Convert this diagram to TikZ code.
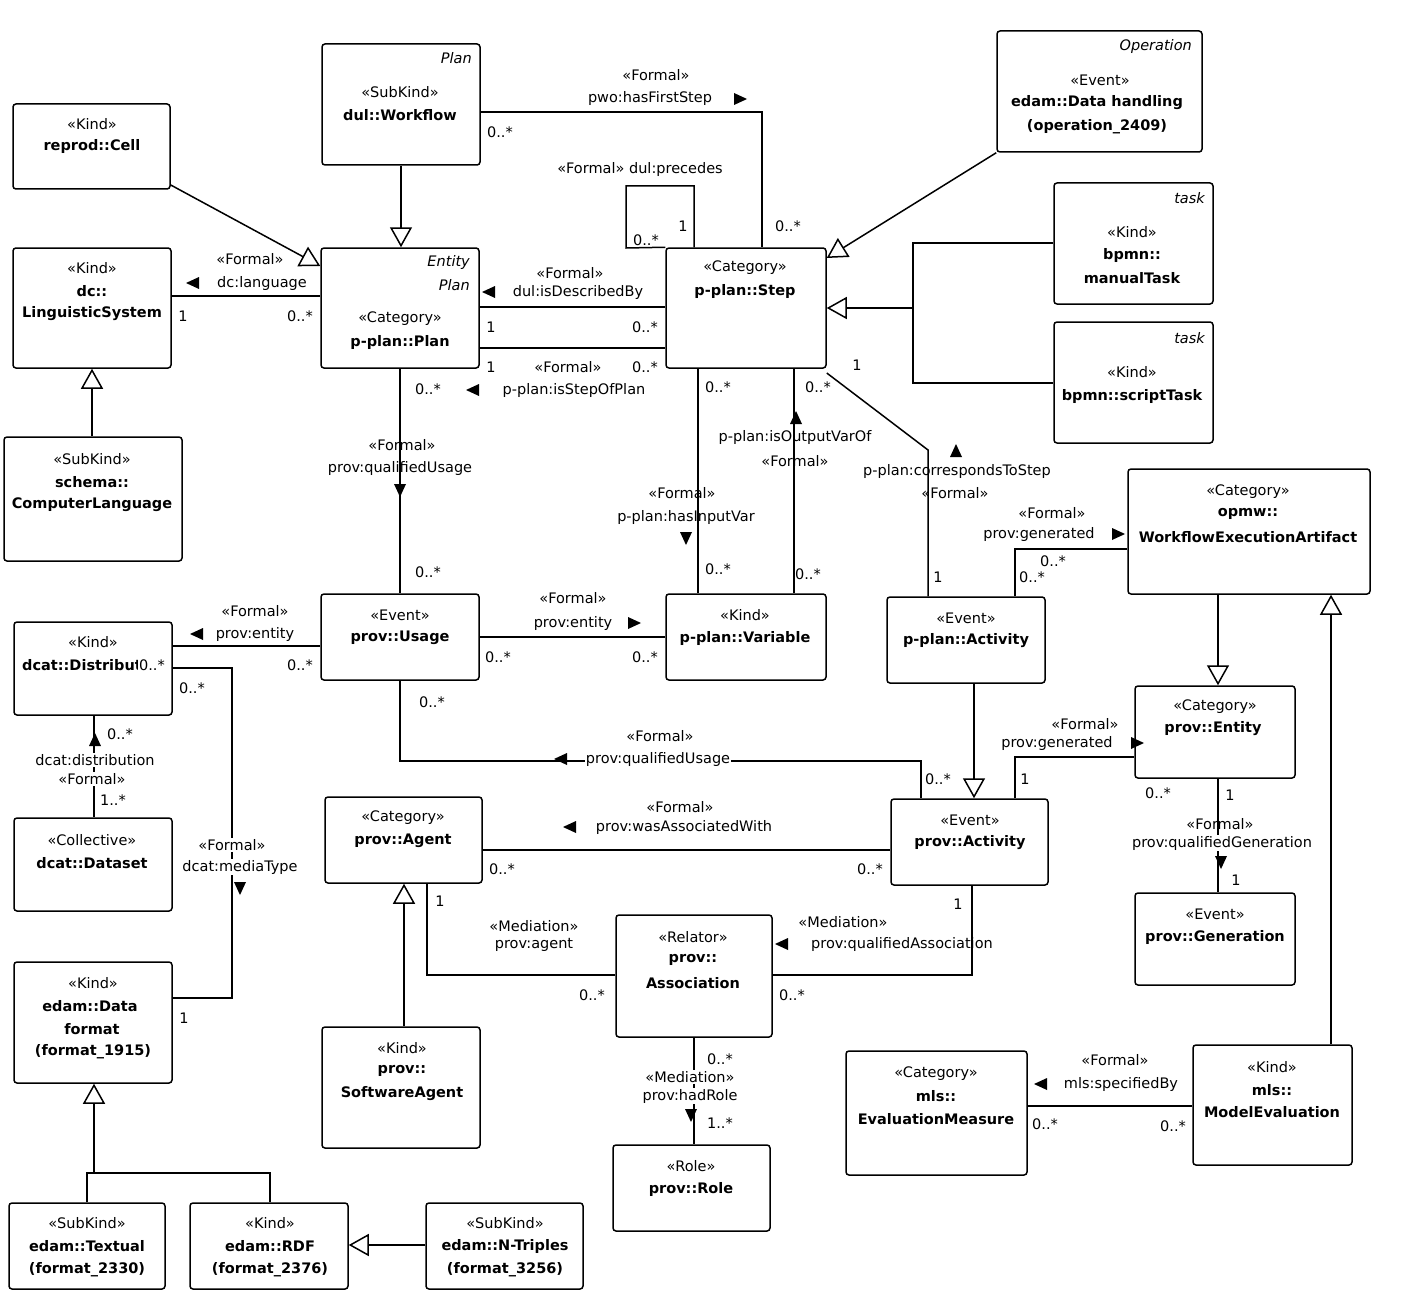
\documentclass[tikz,border=0pt]{standalone}
\usepackage{fontspec}
\setmainfont{DejaVu Sans}
\usetikzlibrary{arrows.meta}
\begin{document}
\begin{tikzpicture}[x=1pt,y=-1pt,
  box/.style={draw,rounded corners=3pt,line width=1.5pt,inner sep=0pt},
  ln/.style={line width=1.5pt},
  gen/.style={ln,-{Triangle[open,length=20pt,width=22pt,fill=white]}},
  t/.style={inner sep=0pt,font=\fontsize{14.5}{16}\selectfont},
  b/.style={inner sep=0pt,font=\fontsize{14.5}{16}\selectfont\bfseries},
  it/.style={inner sep=0pt,font=\fontsize{14.5}{16}\selectfont\itshape},
  tR/.pic={\fill (-6,-6)--(7,0)--(-6,6)--cycle;},
  tL/.pic={\fill (6,-6)--(-7,0)--(6,6)--cycle;},
  tD/.pic={\fill (-6,-6)--(0,7)--(6,-6)--cycle;},
  tU/.pic={\fill (-6,6)--(0,-7)--(6,6)--cycle;}]
\useasboundingbox (0,0) rectangle (1402,1316);
\fill[white] (0,0) rectangle (1402,1316);
\newcommand\mybox[5]{\node[box,minimum width={(#4-#2)*1pt},minimum height={(#5-#3)*1pt}] (#1) at ({(#2+#4)/2},{(#3+#5)/2}) {};}
% boxes
\mybox{wf}{322}{44}{480}{165}
\mybox{cell}{13}{104}{170}{189}
\mybox{ling}{13}{248}{171}{368}
\mybox{comp}{4}{437}{182}{561}
\mybox{plan}{321}{248}{479}{368}
\mybox{step}{666}{248}{826}{368}
\mybox{oper}{997}{31}{1202}{152}
\mybox{manual}{1054}{183}{1213}{304}
\mybox{script}{1054}{322}{1213}{443}
\mybox{opmw}{1128}{469}{1370}{594}
\mybox{usage}{321}{594}{479}{680}
\mybox{var}{666}{594}{826}{680}
\mybox{pact}{887}{597}{1045}{683}
\mybox{dist}{14}{622}{172}{715}
\mybox{ent}{1135}{686}{1295}{778}
\mybox{agent}{325}{797}{482}{883}
\mybox{act}{891}{799}{1048}{885}
\mybox{dset}{14}{818}{172}{911}
\mybox{gen}{1135}{893}{1295}{985}
\mybox{assoc}{616}{915}{772}{1037}
\mybox{fmt}{14}{962}{172}{1083}
\mybox{sw}{322}{1027}{480}{1148}
\mybox{meas}{846}{1051}{1027}{1175}
\mybox{meval}{1193}{1045}{1352}{1165}
\mybox{role}{613}{1145}{770}{1231}
\mybox{txt}{9}{1203}{165}{1289}
\mybox{rdf}{190}{1203}{348}{1289}
\mybox{nt}{426}{1203}{583}{1289}
% box texts
\node[it,anchor=east] at (472,58) {Plan};
\node[t] at (400,92) {«SubKind»}; \node[b] at (400,115) {dul::Workflow};
\node[t] at (92,124) {«Kind»}; \node[b] at (92,147) {reprod::Cell};
\node[t] at (92,268) {«Kind»}; \node[b] at (92,291) {dc::}; \node[b] at (92,314) {LinguisticSystem};
\node[t] at (92,459) {«SubKind»}; \node[b] at (92,482) {schema::}; \node[b] at (92,505) {ComputerLanguage};
\node[it,anchor=east] at (470,262) {Entity}; \node[it,anchor=east] at (470,285) {Plan};
\node[t] at (400,319) {«Category»}; \node[b] at (400,342) {p-plan::Plan};
\node[t] at (745,268) {«Category»}; \node[b] at (745,291) {p-plan::Step};
\node[it,anchor=east] at (1192,47) {Operation};
\node[t] at (1100,80) {«Event»}; \node[b] at (1097,103) {edam::Data handling}; \node[b] at (1097,127) {(operation\_2409)};
\node[it,anchor=east] at (1205,198) {task};
\node[t] at (1132,232) {«Kind»}; \node[b] at (1132,255) {bpmn::}; \node[b] at (1132,278) {manualTask};
\node[it,anchor=east] at (1205,338) {task};
\node[t] at (1132,372) {«Kind»}; \node[b] at (1132,396) {bpmn::scriptTask};
\node[t] at (1248,492) {«Category»}; \node[b] at (1248,514) {opmw::}; \node[b] at (1248,537) {WorkflowExecutionArtifact};
\node[t] at (400,615) {«Event»}; \node[b] at (400,638) {prov::Usage};
\node[t] at (745,615) {«Kind»}; \node[b] at (745,638) {p-plan::Variable};
\node[t] at (966,618) {«Event»}; \node[b] at (966,641) {p-plan::Activity};
\node[t] at (93,642) {«Kind»}; \node[b,anchor=west] at (22,665) {dcat::Distribut};
\node[t] at (1215,707) {«Category»}; \node[b] at (1213,729) {prov::Entity};
\node[t] at (403,818) {«Category»}; \node[b] at (403,841) {prov::Agent};
\node[t] at (970,820) {«Event»}; \node[b] at (970,843) {prov::Activity};
\node[t] at (92,840) {«Collective»}; \node[b] at (92,863) {dcat::Dataset};
\node[t] at (1215,914) {«Event»}; \node[b] at (1215,937) {prov::Generation};
\node[t] at (693,937) {«Relator»}; \node[b] at (693,960) {prov::}; \node[b] at (693,983) {Association};
\node[t] at (93,983) {«Kind»}; \node[b] at (90,1006) {edam::Data}; \node[b] at (92,1029) {format}; \node[b] at (93,1052) {(format\_1915)};
\node[t] at (402,1048) {«Kind»}; \node[b] at (402,1071) {prov::}; \node[b] at (402,1094) {SoftwareAgent};
\node[t] at (936,1074) {«Category»}; \node[b] at (936,1096) {mls::}; \node[b] at (936,1119) {EvaluationMeasure};
\node[t] at (1272,1067) {«Kind»}; \node[b] at (1272,1090) {mls::}; \node[b] at (1272,1112) {ModelEvaluation};
\node[t] at (691,1166) {«Role»}; \node[b] at (691,1189) {prov::Role};
\node[t] at (87,1223) {«SubKind»}; \node[b] at (87,1246) {edam::Textual}; \node[b] at (87,1270) {(format\_2330)};
\node[t] at (270,1223) {«Kind»}; \node[b] at (270,1246) {edam::RDF}; \node[b] at (270,1270) {(format\_2376)};
\node[t] at (505,1223) {«SubKind»}; \node[b] at (505,1246) {edam::N-Triples}; \node[b] at (505,1270) {(format\_3256)};
% generalizations
\draw[gen] (wf.south) -- (plan.north -| wf.south);
\draw[gen] (cell.east |- 0,185) -- (plan.west |- 0,266);
\draw[gen] (comp.north -| ling.south) -- (ling.south);
\draw[gen] (oper.south west) -- (step.east |- 0,258);
\draw[ln] (manual.west |- 0,243) -- (913,243) -- (913,383) -- (script.west |- 0,383);
\draw[gen] (913,308) -- (step.east |- 0,308);
\draw[gen] (opmw.south -| 1218,0) -- (ent.north -| 1218,0);
\draw[gen] (pact.south -| 974,0) -- (act.north -| 974,0);
\draw[gen] (sw.north -| 404,0) -- (agent.south -| 404,0);
\draw[gen] (meval.north -| 1331,0) -- (opmw.south -| 1331,0);
\draw[ln] (txt.north -| 87,0) -- (87,1173) -- (270,1173) -- (rdf.north -| 270,0);
\draw[gen] (94,1173) -- (fmt.south -| 94,0);
\draw[gen] (nt.west |- 0,1245) -- (rdf.east |- 0,1245);
% associations
\draw[ln] (wf.east |- 0,112) -- (762,112) -- (step.north -| 762,0);
\node[t] at (656,75) {«Formal»}; \node[t] at (650,99) {pwo:hasFirstStep}; \pic at (740,99) {tR};
\node[t] at (500,132) {0..*}; \node[t] at (788,226) {0..*};
\draw[ln] (ling.east |- 0,296) -- (plan.west |- 0,296);
\node[t] at (250,259) {«Formal»}; \node[t] at (262,283) {dc:language}; \pic at (193,283) {tL};
\node[t] at (183,316) {1}; \node[t] at (300,316) {0..*};
\draw[ln] (step.north -| 694,0) -- (694,186) -- (626,186) -- (626,248) -- (step.north west);
\node[t] at (640,170) {«Formal» dul:precedes}; \node[t] at (646,240) {0..*}; \node[t] at (683,226) {1};
\draw[ln] (plan.east |- 0,307) -- (step.west |- 0,307);
\node[t] at (570,273) {«Formal»}; \node[t] at (578,292) {dul:isDescribedBy}; \pic at (489,292) {tL};
\node[t] at (491,327) {1}; \node[t] at (645,327) {0..*};
\draw[ln] (plan.east |- 0,348) -- (step.west |- 0,348);
\node[t] at (568,367) {«Formal»}; \node[t] at (491,367) {1}; \node[t] at (645,367) {0..*};
\node[t] at (574,390) {p-plan:isStepOfPlan}; \pic at (473,390) {tL};
\draw[ln] (plan.south) -- (usage.north);
\node[t] at (428,389) {0..*}; \node[t] at (402,445) {«Formal»}; \node[t] at (400,468) {prov:qualifiedUsage};
\pic at (400,490) {tD}; \node[t] at (428,572) {0..*};
\draw[ln] (step.south -| 698,0) -- (var.north -| 698,0);
\node[t] at (718,387) {0..*}; \node[t] at (682,493) {«Formal»}; \node[t] at (686,517) {p-plan:hasInputVar};
\pic at (686,538) {tD}; \node[t] at (718,569) {0..*};
\draw[ln] (step.south -| 794,0) -- (var.north -| 794,0);
\pic at (796,418) {tU}; \node[t] at (795,437) {p-plan:isOutputVarOf}; \node[t] at (795,461) {«Formal»};
\node[t] at (818,387) {0..*}; \node[t] at (808,574) {0..*};
\draw[ln] (step.east |- 0,373) -- (928,450) -- (pact.north -| 928,0);
\node[t] at (857,365) {1}; \pic at (956,451) {tU}; \node[t] at (957,471) {p-plan:correspondsToStep};
\node[t] at (955,493) {«Formal»}; \node[t] at (938,577) {1};
\draw[ln] (pact.north -| 1015,0) -- (1015,549) -- (opmw.west |- 0,549);
\node[t] at (1052,513) {«Formal»}; \node[t] at (1039,534) {prov:generated}; \pic at (1118,534) {tR};
\node[t] at (1053,561) {0..*}; \node[t] at (1032,577) {0..*};
\draw[ln] (usage.east |- 0,637) -- (var.west |- 0,637);
\node[t] at (573,598) {«Formal»}; \node[t] at (573,623) {prov:entity}; \pic at (634,623) {tR};
\node[t] at (498,657) {0..*}; \node[t] at (645,657) {0..*};
\draw[ln] (dist.east |- 0,646) -- (usage.west |- 0,646);
\node[t] at (255,611) {«Formal»}; \node[t] at (255,634) {prov:entity}; \pic at (197,634) {tL};
\node[t] at (300,665) {0..*};
\draw[ln] (usage.south) -- (400,761) -- (921,761) -- (act.north -| 921,0);
\node[t] at (432,702) {0..*}; \node[t] at (660,736) {«Formal»};
\node[t,fill=white,inner sep=1pt] at (658,759) {prov:qualifiedUsage}; \pic at (561,759) {tL};
\node[t] at (938,779) {0..*};
\draw[ln] (act.north -| 1015,0) -- (1015,757) -- (ent.west |- 0,757);
\node[t] at (1085,724) {«Formal»}; \node[t] at (1057,743) {prov:generated}; \pic at (1137,743) {tR};
\node[t] at (1025,779) {1};
\draw[ln] (ent.south -| 1218,0) -- (gen.north -| 1218,0);
\node[t] at (1158,793) {0..*}; \node[t] at (1230,795) {1}; \node[t] at (1220,824) {«Formal»};
\node[t,fill=white,inner sep=1pt] at (1222,843) {prov:qualifiedGeneration}; \pic at (1221,862) {tD}; \node[t] at (1236,880) {1};
\draw[ln] (dist.south -| 94,0) -- (dset.north -| 94,0);
\pic at (95,740) {tU}; \node[t] at (120,734) {0..*}; \node[t,fill=white,inner sep=1pt] at (95,760) {dcat:distribution};
\node[t,fill=white,inner sep=1pt] at (92,779) {«Formal»}; \node[t] at (113,800) {1..*};
\node[t,fill=white,inner sep=1pt] at (152,665) {0..*};
\draw[ln] (dist.east |- 0,668) -- (232,668) -- (232,998) -- (fmt.east |- 0,998);
\node[t] at (192,688) {0..*}; \node[t,fill=white,inner sep=1pt] at (232,845) {«Formal»};
\node[t,fill=white,inner sep=1pt] at (240,867) {dcat:mediaType}; \pic at (240,888) {tD}; \node[t] at (184,1018) {1};
\draw[ln] (agent.east |- 0,850) -- (act.west |- 0,850);
\node[t] at (680,807) {«Formal»}; \node[t] at (684,827) {prov:wasAssociatedWith}; \pic at (570,827) {tL};
\node[t] at (502,869) {0..*}; \node[t] at (870,869) {0..*};
\draw[ln] (agent.south -| 427,0) -- (427,975) -- (assoc.west |- 0,975);
\node[t] at (440,901) {1}; \node[t] at (534,926) {«Mediation»}; \node[t] at (534,945) {prov:agent};
\node[t] at (592,995) {0..*};
\draw[ln] (act.south -| 972,0) -- (972,975) -- (assoc.east |- 0,975);
\node[t] at (958,904) {1}; \node[t] at (843,922) {«Mediation»}; \node[t] at (902,944) {prov:qualifiedAssociation};
\pic at (782,944) {tL}; \node[t] at (792,995) {0..*};
\draw[ln] (assoc.south) -- (role.north -| assoc.south);
\node[t] at (720,1059) {0..*}; \node[t,fill=white,inner sep=1pt] at (690,1077) {«Mediation»}; \node[t,fill=white,inner sep=1pt] at (690,1096) {prov:hadRole};
\pic at (691,1115) {tD}; \node[t] at (720,1123) {1..*};
\draw[ln] (meas.east |- 0,1106) -- (meval.west |- 0,1106);
\node[t] at (1115,1060) {«Formal»}; \node[t] at (1121,1084) {mls:specifiedBy}; \pic at (1041,1084) {tL};
\node[t] at (1045,1124) {0..*}; \node[t] at (1173,1126) {0..*};
\end{tikzpicture}
\end{document}
